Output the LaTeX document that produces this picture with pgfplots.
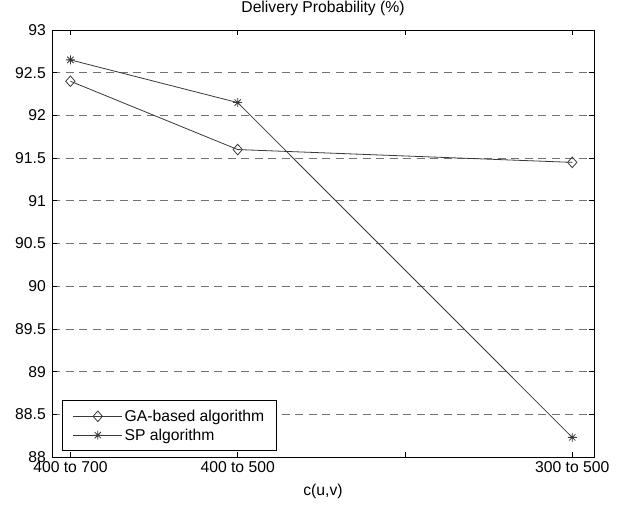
\documentclass[border=0pt]{standalone}
\usepackage{fontspec}
\setmainfont{Liberation Sans}
\usepackage{pgfplots}
\pgfplotsset{compat=1.18}

\pgfdeclareplotmark{mstar}{%
  \pgfpathmoveto{\pgfqpoint{-\pgfplotmarksize}{0pt}}\pgfpathlineto{\pgfqpoint{\pgfplotmarksize}{0pt}}%
  \pgfpathmoveto{\pgfqpoint{0pt}{-\pgfplotmarksize}}\pgfpathlineto{\pgfqpoint{0pt}{\pgfplotmarksize}}%
  \pgfpathmoveto{\pgfqpoint{-.7\pgfplotmarksize}{-.7\pgfplotmarksize}}\pgfpathlineto{\pgfqpoint{.7\pgfplotmarksize}{.7\pgfplotmarksize}}%
  \pgfpathmoveto{\pgfqpoint{-.7\pgfplotmarksize}{.7\pgfplotmarksize}}\pgfpathlineto{\pgfqpoint{.7\pgfplotmarksize}{-.7\pgfplotmarksize}}%
  \pgfusepathqstroke}

\newcommand\cf{\fontsize{15.7bp}{18bp}\selectfont}

\begin{document}
\begin{tikzpicture}
\begin{axis}[
  scale only axis, width=542bp, height=427bp,
  xmin=0.89, xmax=4.13, ymin=88, ymax=93,
  xtick={1,2,3,4},
  xticklabels={400 to 700,400 to 500,,300 to 500},
  ytick={88,88.5,89,89.5,90,90.5,91,91.5,92,92.5,93},
  yticklabels={88,88.5,89,89.5,90,90.5,91,91.5,92,92.5,93},
  tick align=inside, tick pos=both, major tick length=5bp,
  tick style={black, line width=0.8bp},
  axis line style={black, line width=0.8bp},
  ymajorgrids,
  major grid style={black!55, line width=0.8bp, dash pattern=on 8bp off 5.5bp},
  every tick label/.append style={font=\cf},
  xticklabel style={inner sep=0pt, anchor=north, yshift=-4bp},
  yticklabel style={inner sep=0pt, anchor=east, xshift=-6bp},
  title={Delivery Probability (\%)},
  title style={font=\cf, at={(axis description cs:0.5,1)}, anchor=south, inner sep=0pt, yshift=7.7bp},
  xlabel={c(u,v)},
  xlabel style={font=\cf, at={(axis description cs:0.5,0)}, anchor=north, inner sep=0pt, yshift=-27bp},
  legend style={at={(axis description cs:0,0)}, anchor=south west, xshift=10bp, yshift=6bp,
    font=\cf, draw=black, line width=0.8bp, inner xsep=10.5bp, inner ysep=7bp,
    row sep=2bp},
  legend cell align=left,
  legend image code/.code={\draw[mark repeat=2,mark phase=2,#1] plot coordinates {(0bp,0bp)(24.5bp,0bp)(49bp,0bp)};},
]
\addplot[color=black!78, line width=0.8bp, mark=diamond, mark size=5.3bp, mark options={solid, xscale=1.17}]
  coordinates {(1,92.4)(2,91.6)(4,91.45)};
\addlegendentry{GA-based algorithm}
\addplot[color=black!78, line width=0.8bp, mark=mstar, mark size=4.5bp, mark options={solid}]
  coordinates {(1,92.65)(2,92.15)(4,88.23)};
\addlegendentry{SP algorithm}
\end{axis}
\pgfresetboundingbox
\path[use as bounding box] ([xshift=-52bp,yshift=-51bp]current axis.south west) rectangle ([xshift=37bp,yshift=30bp]current axis.north east);
\end{tikzpicture}
\end{document}
